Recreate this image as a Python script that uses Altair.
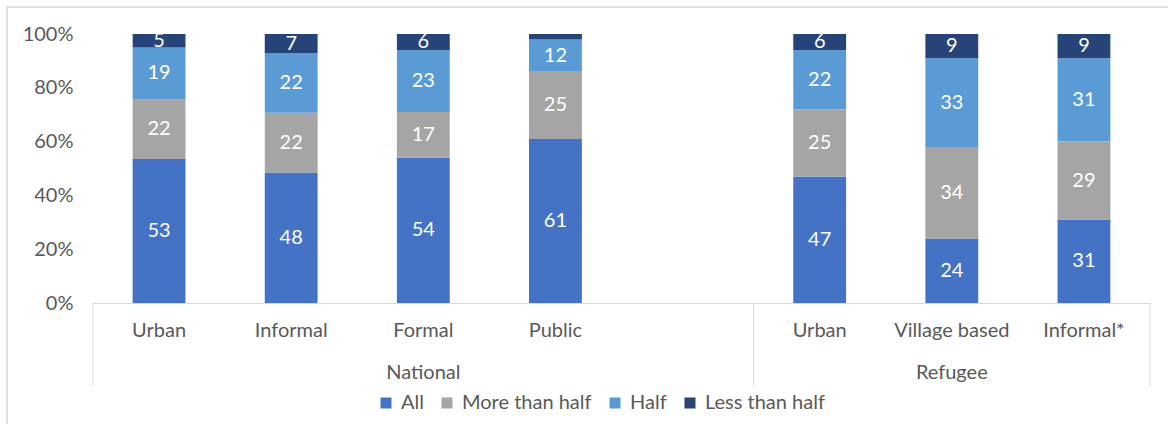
import altair as alt
import pandas as pd

groups = ["National", "National", "National", "National", "Refugee", "Refugee", "Refugee"]
places = ["Urban", "Informal", "Formal", "Public", "Urban", "Village based", "Informal*"]
series = ["All", "More than half", "Half", "Less than half"]
v_all = [53, 48, 54, 61, 47, 24, 31]
v_more = [22, 22, 17, 25, 25, 34, 29]
v_half = [19, 22, 23, 12, 22, 33, 31]
v_less = [5, 7, 6, 2, 6, 9, 9]
colors = ["#4472C4", "#A5A5A5", "#5B9BD5", "#264478"]

keys = [g + "|" + p for g, p in zip(groups, places)]
domain = keys[:4] + ["gap"] + keys[4:]

rows = []
for i, k in enumerate(keys):
    for j, (s, vals) in enumerate(zip(series, [v_all, v_more, v_half, v_less])):
        rows.append({"key": k, "series": s, "order": j, "value": vals[i]})
df = pd.DataFrame(rows)

W, H = 1057, 269
FONT = "Lato"
FS = 20
GREY = "#595959"
LINE = "#D9D9D9"

xscale = alt.Scale(domain=domain, paddingInner=0, paddingOuter=0)
yscale = alt.Scale(domain=[0, 1])
xaxis = alt.Axis(labelExpr="indexof(datum.label, '|') >= 0 ? split(datum.label, '|')[1] : ''",
                 labelAngle=0, ticks=False, domainColor=LINE, domainWidth=1,
                 labelColor=GREY, labelFont=FONT, labelFontSize=FS, labelPadding=17, title=None)
yaxis = alt.Axis(values=[0, 0.2, 0.4, 0.6, 0.8, 1], format=".0%", grid=False,
                 ticks=False, domain=False, labelColor=GREY, labelFont=FONT,
                 labelFontSize=FS, labelPadding=20, title=None)

def X(**kw):
    return alt.X("key:N", scale=xscale, sort=domain, axis=xaxis, title=None, **kw)

base = alt.Chart(df).transform_stack(
    stack="value", groupby=["key"], as_=["y0", "y1"], offset="normalize",
    sort=[alt.SortField("order", "ascending")]
)

bars = base.mark_bar(width=alt.RelativeBandSize(0.4)).encode(
    x=X(),
    y=alt.Y("y0:Q", scale=yscale, axis=yaxis, title=None),
    y2="y1:Q",
    color=alt.Color("series:N", scale=alt.Scale(domain=series, range=colors), title=None,
                    legend=alt.Legend(orient="none", direction="horizontal", legendX=283, legendY=359,
                                      symbolType="square", symbolSize=121, symbolStrokeWidth=0,
                                      labelFont=FONT, labelFontSize=FS, labelColor=GREY,
                                      labelOffset=5, columnPadding=13)),
    order=alt.Order("order:Q"),
)

labels = base.transform_filter("datum.value >= 3").transform_calculate(
    mid="(datum.y0 + datum.y1) / 2"
).mark_text(color="white", font=FONT, fontSize=FS, baseline="middle").encode(
    x=X(),
    y=alt.Y("mid:Q", scale=yscale, axis=yaxis, title=None),
    text="value:Q",
)

sep_left = pd.DataFrame({"key": [keys[0], keys[4]]})
sep_right = pd.DataFrame({"key": [keys[-1]]})
rule_l = alt.Chart(sep_left).mark_rule(color=LINE, strokeWidth=1).encode(
    x=X(bandPosition=0),
    y=alt.value(H), y2=alt.value(H + 83),
)
rule_r = alt.Chart(sep_right).mark_rule(color=LINE, strokeWidth=1).encode(
    x=X(bandPosition=1),
    y=alt.value(H), y2=alt.value(H + 83),
)

grp = pd.DataFrame({"key": ["National|Formal", "Refugee|Village based"], "name": ["National", "Refugee"]})
grp_labels = alt.Chart(grp).mark_text(font=FONT, fontSize=FS, color=GREY, baseline="middle").encode(
    x=X(),
    y=alt.value(H + 70),
    text="name:N",
)

border = alt.Chart(pd.DataFrame({"a": [0]})).mark_rect(fill=None, stroke=LINE, strokeWidth=1.5).encode(
    x=alt.value(-86), x2=alt.value(W + 200), y=alt.value(-27), y2=alt.value(H + 200),
)

chart = alt.layer(border, bars, labels, rule_l, rule_r, grp_labels).properties(
    width=W, height=H,
    padding={"left": 93, "top": 34, "right": 18, "bottom": 121},
    autosize=alt.AutoSizeParams(type="none"),
    background="white",
).configure_view(stroke=None, strokeWidth=0)

chart.save("out.html", embed_options={"renderer": "svg", "actions": False})
